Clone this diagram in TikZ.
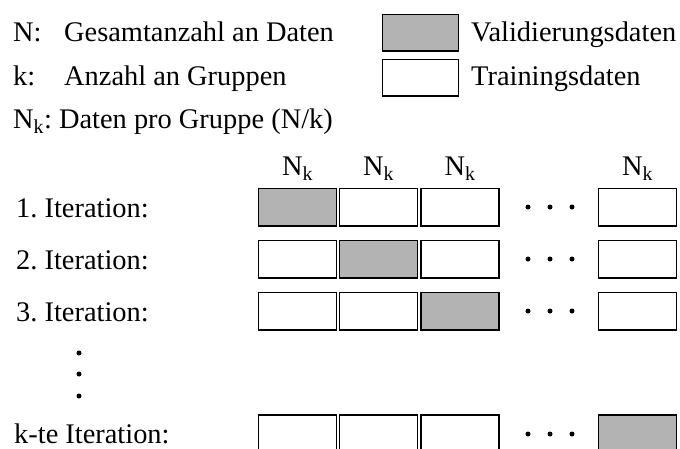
\documentclass[tikz,border=0pt]{standalone}
\usepackage{fontspec}
\setmainfont{Liberation Serif}
\usepackage{tikz}
\usetikzlibrary{positioning}

\definecolor{valgray}{RGB}{179,179,179}

\tikzset{
	fold/.style={draw=black, line width=1.2pt, fill=white, rectangle,
		minimum width=78pt, minimum height=37.5pt, inner sep=0pt, outer sep=0pt, anchor=north west},
	valfold/.style={fold, fill=valgray},
	txt/.style={anchor=base west, inner sep=0pt, font=\fontsize{28.4}{32}\selectfont},
	colhead/.style={anchor=base, inner sep=0pt, font=\fontsize{28.4}{32}\selectfont}
}

\begin{document}
\frenchspacing
\begin{tikzpicture}[x=1pt, y=-1pt]
	\useasboundingbox (0,0) rectangle (680,448);

	% Legende
	\node [txt] (lN) at (13,41) {N:};
	\node [txt] (lNtxt) at (64,41) {Gesamtanzahl an Daten};
	\node [txt] (lk) at (13,85) {k:};
	\node [txt] (lktxt) at (64,85) {Anzahl an Gruppen};
	\node [txt] (lNk) at (13,128) {N\textsubscript{k}: Daten pro Gruppe (N/k)};

	\node [valfold, minimum width=76pt, minimum height=36.5pt] (legval) at (382.5,14.5) {};
	\node [fold, minimum width=76pt, minimum height=36.5pt] (legtrain) at (382.5,59.5) {};
	\node [txt] (legvaltxt) at (471,41) {Validierungsdaten};
	\node [txt] (legtraintxt) at (471,85) {Trainingsdaten};

	% Kopfzeile
	\node [colhead] (h1) at (297.5,175) {N\textsubscript{k}};
	\node [colhead] (h2) at (378.5,175) {N\textsubscript{k}};
	\node [colhead] (h3) at (460,175) {N\textsubscript{k}};
	\node [colhead] (h4) at (637.5,175) {N\textsubscript{k}};

	% 1. Iteration
	\node [txt] (it1) at (16,217) {1. Iteration:};
	\node [valfold] (r1c1) at (258.5,188.5) {};
	\node [fold] (r1c2) at (339.5,188.5) {};
	\node [fold] (r1c3) at (421,188.5) {};
	\node [fold] (r1c4) at (598.5,188.5) {};
	\fill (528,207) circle [radius=2.5];
	\fill (550,207) circle [radius=2.5];
	\fill (572,207) circle [radius=2.5];

	% 2. Iteration
	\node [txt] (it2) at (16,269) {2. Iteration:};
	\node [fold] (r2c1) at (258.5,240.5) {};
	\node [valfold] (r2c2) at (339.5,240.5) {};
	\node [fold] (r2c3) at (421,240.5) {};
	\node [fold] (r2c4) at (598.5,240.5) {};
	\fill (528,259) circle [radius=2.5];
	\fill (550,259) circle [radius=2.5];
	\fill (572,259) circle [radius=2.5];

	% 3. Iteration
	\node [txt] (it3) at (16,321) {3. Iteration:};
	\node [fold] (r3c1) at (258.5,292.5) {};
	\node [fold] (r3c2) at (339.5,292.5) {};
	\node [valfold] (r3c3) at (421,292.5) {};
	\node [fold] (r3c4) at (598.5,292.5) {};
	\fill (528,311) circle [radius=2.5];
	\fill (550,311) circle [radius=2.5];
	\fill (572,311) circle [radius=2.5];

	% Zwischenpunkte
	\fill (79,353) circle [radius=2.5];
	\fill (79,374) circle [radius=2.5];
	\fill (79,396) circle [radius=2.5];

	% k-te Iteration
	\node [txt] (itk) at (14,443) {k-te Iteration:};
	\node [fold] (rkc1) at (258.5,415) {};
	\node [fold] (rkc2) at (339.5,415) {};
	\node [fold] (rkc3) at (421,415) {};
	\node [valfold] (rkc4) at (598.5,415) {};
	\fill (528,434) circle [radius=2.5];
	\fill (550,434) circle [radius=2.5];
	\fill (572,434) circle [radius=2.5];

\end{tikzpicture}
\end{document}
